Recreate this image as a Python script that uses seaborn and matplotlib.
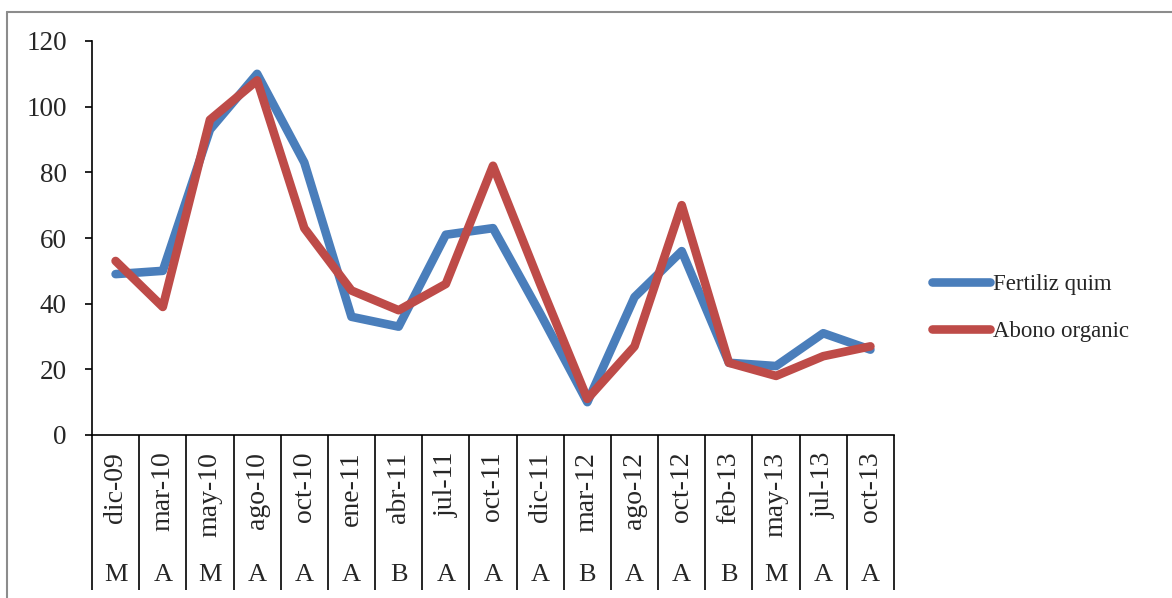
import numpy as np
import pandas as pd
import matplotlib
matplotlib.use("Agg")
import matplotlib.pyplot as plt
from matplotlib.lines import Line2D
import seaborn as sns

# Sampling dates (first category level) and class (second category level)
fechas = ["dic-09", "mar-10", "may-10", "ago-10", "oct-10", "ene-11", "abr-11",
          "jul-11", "oct-11", "dic-11", "mar-12", "ago-12", "oct-12", "feb-13",
          "may-13", "jul-13", "oct-13"]
clases = ["M", "A", "M", "A", "A", "A", "B", "A", "A", "A", "B", "A", "A", "B",
          "M", "A", "A"]

fertiliz_quim = [49, 50, 93, 110, 83, 36, 33, 61, 63, 37, 10, 42, 56, 22, 21, 31, 26]
abono_organic = [53, 39, 96, 108, 63, 44, 38, 46, 82, 46, 11, 27, 70, 22, 18, 24, 27]

series = ["Fertiliz quim", "Abono organic"]
colores = ["#4A7EBB", "#BE4B48"]
y_ticks = [0, 20, 40, 60, 80, 100, 120]

sns.set_style("white")
plt.rcParams["font.family"] = ["Liberation Serif", "DejaVu Serif"]

n = len(fechas)
pos = np.arange(n)
df = pd.DataFrame({
    "pos": np.concatenate([pos, pos]),
    "valor": fertiliz_quim + abono_organic,
    "serie": [series[0]] * n + [series[1]] * n,
})

W, H = 1172, 598
fig = plt.figure(figsize=(W / 100, H / 100), dpi=100)
ax = fig.add_axes([92 / W, 1 - 435 / H, (894 - 92) / W, (435 - 41) / H])

sns.lineplot(data=df, x="pos", y="valor", hue="serie", hue_order=series,
             palette=colores, linewidth=6.2, sort=False, errorbar=None,
             legend=False, ax=ax)
for ln in ax.lines:
    ln.set_solid_capstyle("round")
    ln.set_solid_joinstyle("round")

ax.set_xlim(-0.5, n - 0.5)
ax.set_ylim(0, 120)
ax.set_xlabel("")
ax.set_ylabel("")

# Y axis
ax.set_yticks(y_ticks)
ax.tick_params(axis="y", which="major", direction="out", length=5, width=1.2,
               color="black", labelsize=19.5, pad=13, left=True)

# X axis: two-level category labels with long separators
ax.set_xticks(pos)
ax.set_xticklabels(fechas, rotation=90, fontsize=20)
ax.tick_params(axis="x", which="major", length=0, pad=12)
ax.set_xticks(np.arange(n + 1) - 0.5, minor=True)
ax.tick_params(axis="x", which="minor", direction="out", length=111.6,
               width=1.2, color="black", bottom=True)
for i, c in enumerate(clases):
    ax.text(i, -0.355, c, transform=ax.get_xaxis_transform(), ha="center",
            va="center", fontsize=19)

for s in ["top", "right"]:
    ax.spines[s].set_visible(False)
for s in ["left", "bottom"]:
    ax.spines[s].set_color("black")
    ax.spines[s].set_linewidth(1.2)

# Legend
handles = [Line2D([0], [0], color=c, lw=6.2, solid_capstyle="round") for c in colores]
fig.legend(handles, series, loc="center left",
           bbox_to_anchor=(932 / W, 1 - 308 / H), frameon=False, fontsize=16.5,
           handlelength=2.55, handletextpad=0.1, labelspacing=1.15,
           borderpad=0, borderaxespad=0)

# Chart area border
fig.add_artist(Line2D([7 / W, 7 / W], [1 - 12 / H, 0], transform=fig.transFigure,
                      color="#8c8c8c", lw=1.5))
fig.add_artist(Line2D([7 / W, 1], [1 - 12 / H, 1 - 12 / H], transform=fig.transFigure,
                      color="#8c8c8c", lw=1.5))

fig.savefig("out.png", dpi=100, facecolor="white")
